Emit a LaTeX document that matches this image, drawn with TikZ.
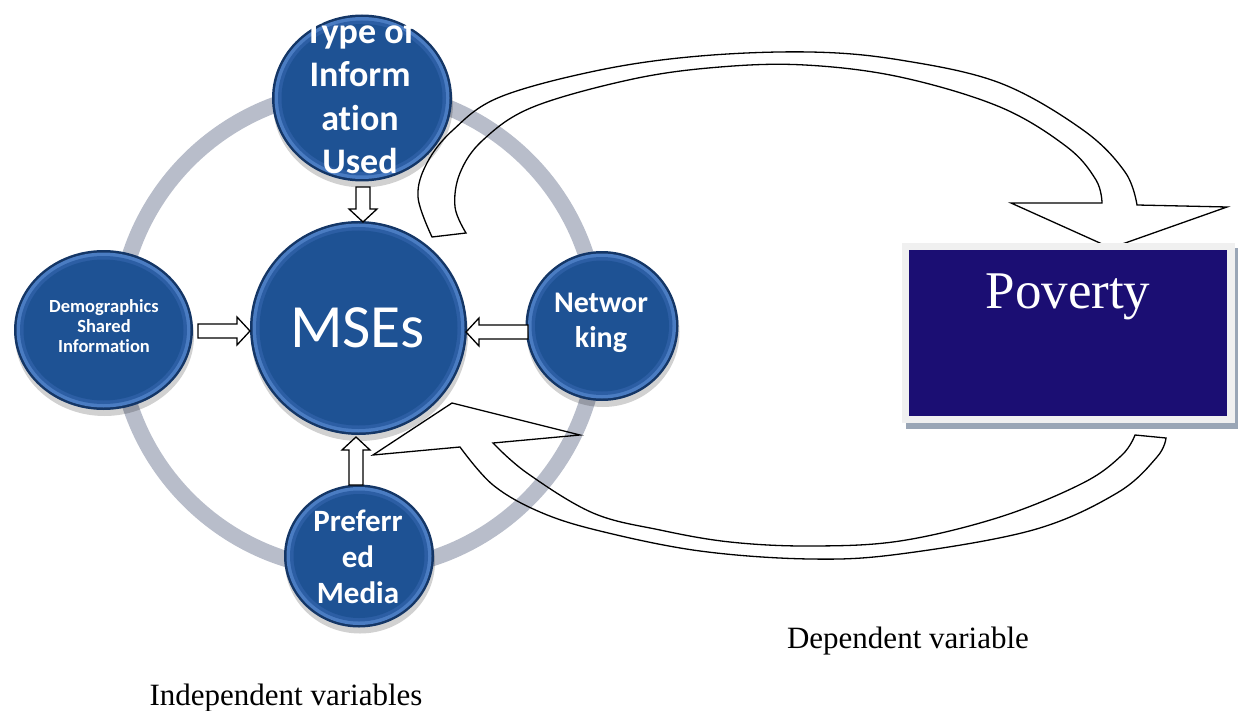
\documentclass[tikz,border=0pt]{standalone}
\usepackage{fontspec}
\setmainfont{Liberation Serif}
\newfontfamily\calib{Carlito}[Ligatures=NoCommon]
\usetikzlibrary{calc,shadows,shapes.geometric}
\definecolor{bEdge}{RGB}{20,54,102}
\definecolor{bLight}{RGB}{74,124,194}
\definecolor{bMid}{RGB}{44,94,164}
\definecolor{bIn}{RGB}{30,82,148}
\definecolor{ringgray}{RGB}{184,189,202}
\definecolor{navy}{RGB}{27,14,115}
\definecolor{framegray}{RGB}{240,240,240}
\definecolor{shadowgray}{RGB}{154,166,182}
\tikzset{
  btn/.style 2 args={ellipse, inner sep=0pt, minimum width=#1, minimum height=#2, fill=bEdge,
    drop shadow={shadow xshift=1pt, shadow yshift=-6pt, opacity=0.18, fill=black},
    path picture={
      \fill[bLight] (path picture bounding box.center) ellipse[x radius=#1/2-2.5pt, y radius=#2/2-2.5pt];
      \fill[bMid] (path picture bounding box.center) ellipse[x radius=#1/2-6pt, y radius=#2/2-6pt];
      \fill[bIn] (path picture bounding box.center) ellipse[x radius=#1/2-9.5pt, y radius=#2/2-9.5pt];
    }},
  btntext/.style={text=white, align=center, inner sep=0pt},
  smallarrow/.style={draw=black, fill=white, line width=1.3pt, line join=miter},
  bigarrow/.style={draw=black, line width=1.3pt, line join=miter},
  caption/.style={anchor=base, inner sep=0pt, font=\fontsize{31pt}{36pt}\selectfont}
}
\newcommand{\blockarr}[2]{%
  \coordinate (bh) at ($(#2)!13pt!(#1)$);
  \draw[smallarrow] ($(#1)!7pt!90:(#2)$) -- ($(bh)!7pt!90:(#2)$) -- ($(bh)!14pt!90:(#2)$) -- (#2)
    -- ($(bh)!14pt!-90:(#2)$) -- ($(bh)!7pt!-90:(#2)$) -- ($(#1)!7pt!-90:(#2)$) -- cycle;}
\begin{document}
\begin{tikzpicture}[x=1pt, y=-1pt]
\useasboundingbox (0,0) rectangle (1238,711);
% ring
\draw[ringgray, line width=16pt] (358,330) circle[radius=240pt];
% circles
\node[btn={180pt}{167pt}] (top) at (362,98) {};
\node[btn={179pt}{160pt}] (dem) at (103.5,330) {};
\node[btn={153pt}{150pt}] (net) at (602,326) {};
\node[btn={150pt}{143pt}] (pref) at (359,556) {};
\node[btn={217pt}{214pt}] (mse) at (358.5,328) {};
% circle texts
\node[btntext, font=\calib\bfseries\fontsize{36pt}{43.5pt}\selectfont] (toptxt) at (360,96) {Type of\\Inform\\ation\\Used};
\node[btntext, font=\calib\bfseries\fontsize{18.5pt}{19.8pt}\selectfont] (demtxt) at (104,326) {Demographics\\Shared\\Information};
\node[btntext, font=\calib\bfseries\fontsize{30pt}{35pt}\selectfont] (nettxt) at (601,323) {Networ\\king};
\node[btntext, font=\calib\bfseries\fontsize{31pt}{36.3pt}\selectfont] (preftxt) at (358,557) {Preferr\\ed\\Media};
\node[anchor=base, text=white, inner sep=0pt, font=\calib\fontsize{61.5pt}{64pt}\selectfont] (msetxt) at (357.5,347) {MSEs};
% small block arrows
\coordinate (a1s) at (363,187); \coordinate (a1e) at (363,222);
\coordinate (a2s) at (198,331); \coordinate (a2e) at (250,331);
\coordinate (a3s) at (528,332); \coordinate (a3e) at (466,332);
\coordinate (a4s) at (356,485); \coordinate (a4e) at (356,437);
\blockarr{a1s}{a1e}
\blockarr{a2s}{a2e}
\blockarr{a3s}{a3e}
\blockarr{a4s}{a4e}
% big curved arrow: MSEs to Poverty
\draw[bigarrow] (432,237) -- plot[smooth, tension=0.6] coordinates {(432,237) (418,197) (427,163) (453,130) (500,97) (600,70) (700,56) (810,52) (900,60) (1000,83) (1083,130) (1125,172) (1137,205)}
  -- (1227,207) -- (1111,248) -- (1011,203) -- (1102,203)
  -- plot[smooth, tension=0.6] coordinates {(1102,203) (1096,180) (1067,147) (1000,107) (900,77) (805,65) (720,67) (633,79) (533,107) (483,140) (460,173) (455,207) (466,233)} -- cycle;
% big curved arrow: Poverty back to MSEs
\draw[bigarrow] (1135,435) -- (1166,438)
  -- plot[smooth, tension=0.6] coordinates {(1166,438) (1157,457) (1117,493) (1033,530) (900,554) (810,559) (700,551) (600,531) (540,512) (493,485) (460,447)}
  -- (373,455) -- (452,403) -- (580,435) -- (493,443)
  -- plot[smooth, tension=0.6] coordinates {(493,443) (527,473) (593,513) (660,530) (730,542) (810,546) (900,541) (1000,517) (1083,483) (1122,455) (1135,435)} -- cycle;
% Poverty box
\fill[shadowgray] (906,248) rectangle (1238,429);
\node[fill=framegray, minimum width=333pt, minimum height=180pt, inner sep=0pt] (povframe) at (1068.5,333) {};
\node[fill=navy, minimum width=318pt, minimum height=166pt, inner sep=0pt] (pov) at (1068,333) {};
\node[anchor=base, inner sep=0pt, text=white, font=\fontsize{53pt}{60pt}\selectfont] (povtxt) at (1068,308) {Poverty};
% captions
\node[caption] (dep) at (908,648) {Dependent variable};
\node[caption] (indep) at (286,705) {Independent variables};
\end{tikzpicture}
\end{document}
